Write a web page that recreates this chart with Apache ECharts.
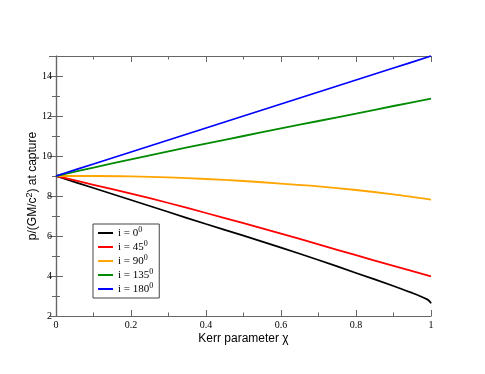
<!DOCTYPE html>
<html>
<head>
<meta charset="utf-8">
<script src="https://cdn.jsdelivr.net/npm/echarts@6/dist/echarts.min.js"></script>
<style>
  html, body { margin: 0; padding: 0; background: #fff; }
</style>
</head>
<body>
<div id="main" style="width: 485px; height: 374px;"></div>
<script>
// Kerr parameter values
const chi = [0, 0.1, 0.2, 0.3, 0.4, 0.5, 0.6, 0.7, 0.8, 0.9, 1.0]
const chiBlack = [0, 0.1, 0.2, 0.3, 0.4, 0.5, 0.6, 0.7, 0.8, 0.9, 0.95, 0.97, 0.99, 0.997, 1.0]
// p at capture, one array per inclination
const p0 = [9, 8.4, 7.8, 7.2, 6.6, 6.02, 5.42, 4.8, 4.15, 3.5, 3.15, 3.0, 2.83, 2.72, 2.63]
const p45 = [9, 8.56, 8.12, 7.65, 7.15, 6.64, 6.12, 5.58, 5.04, 4.51, 3.98]
const p90 = [9, 9.0, 8.98, 8.93, 8.85, 8.75, 8.62, 8.48, 8.3, 8.08, 7.82]
const p135 = [9, 9.42, 9.83, 10.23, 10.62, 11.0, 11.38, 11.75, 12.12, 12.5, 12.87]
const p180 = [9, 9.6, 10.2, 10.8, 11.4, 12.0, 12.6, 13.2, 13.8, 14.4, 15.0]
// legend names (superscript 0 added in formatter)
const names = ['i = 0', 'i = 45', 'i = 90', 'i = 135', 'i = 180']
const colors = ['#000000', '#ff0000', '#ffa500', '#008b00', '#0000ff']

const pairs = (xs, ys) => xs.map((x, k) => [x, ys[k]])
const curves = [pairs(chiBlack, p0), pairs(chi, p45), pairs(chi, p90), pairs(chi, p135), pairs(chi, p180)]

const serif = 'Liberation Serif'
const sans = 'Liberation Sans'
const frame = '#666'
const axisLine = { lineStyle: { color: frame, width: 1.2 } }

const makeX = (pos, labels) => ({
  type: 'value', position: pos, min: 0, max: 1, interval: 0.2,
  axisLine: axisLine,
  axisTick: { inside: true, length: 6, lineStyle: { color: frame } },
  minorTick: { show: true, splitNumber: 2, length: 3.5, lineStyle: { color: frame } },
  splitLine: { show: false },
  axisLabel: { show: labels, margin: 4, color: '#000', fontFamily: serif, fontSize: 10,
    formatter: v => String(+v.toFixed(1)) }
})
const makeY = (pos, labels) => ({
  type: 'value', position: pos, min: 2, max: 15, interval: 2,
  axisLine: axisLine,
  axisTick: { inside: true, length: 7, lineStyle: { color: frame } },
  minorTick: { show: true, splitNumber: 2, length: 4, lineStyle: { color: frame } },
  splitLine: { show: false },
  axisLabel: { show: labels, margin: 4, color: '#000', fontFamily: serif, fontSize: 10,
    showMaxLabel: false }
})

const xBottom = makeX('bottom', true)
xBottom.name = 'Kerr parameter χ'
xBottom.nameLocation = 'middle'
xBottom.nameGap = 17
xBottom.nameMoveOverlap = false
xBottom.nameTextStyle = { color: '#000', fontFamily: sans, fontSize: 12 }

const yLeft = makeY('left', true)
yLeft.name = '{a|p/(GM/c}{s|2}{a|) at capture}'
yLeft.nameLocation = 'middle'
yLeft.nameGap = 16
yLeft.nameMoveOverlap = false
yLeft.nameTextStyle = {
  color: '#000', fontFamily: sans, fontSize: 12,
  rich: {
    a: { fontFamily: sans, fontSize: 12, color: '#000' },
    s: { fontFamily: sans, fontSize: 9, color: '#000', verticalAlign: 'top', padding: [0, 0, 6, 0] }
  }
}

const myChart = echarts.init(document.getElementById('main'))
myChart.setOption({
  animation: false,
  backgroundColor: '#fff',
  grid: { left: 56, right: 54, top: 56, bottom: 58, containLabel: false },
  xAxis: [xBottom, makeX('top', false)],
  yAxis: [yLeft, makeY('right', false)],
  legend: {
    orient: 'vertical',
    left: 93, top: 224,
    padding: [2, 6, 2, 5],
    itemGap: 0,
    itemWidth: 15, itemHeight: 2,
    icon: 'rect',
    borderColor: '#444', borderWidth: 1,
    data: names,
    formatter: name => '{n|' + name + '}{s|0}',
    textStyle: {
      color: '#000', fontFamily: serif, fontSize: 11, lineHeight: 14,
      rich: {
        n: { fontFamily: serif, fontSize: 11, color: '#000', lineHeight: 14 },
        s: { fontFamily: serif, fontSize: 8, color: '#000', verticalAlign: 'top', padding: [0, 0, 5, 0] }
      }
    }
  },
  series: names.map((n, k) => ({
    name: n,
    type: 'line',
    xAxisIndex: 0, yAxisIndex: 0,
    data: curves[k],
    showSymbol: false,
    smooth: 0.3,
    color: colors[k],
    lineStyle: { color: colors[k], width: 1.8 }
  }))
})
</script>
</body>
</html>
